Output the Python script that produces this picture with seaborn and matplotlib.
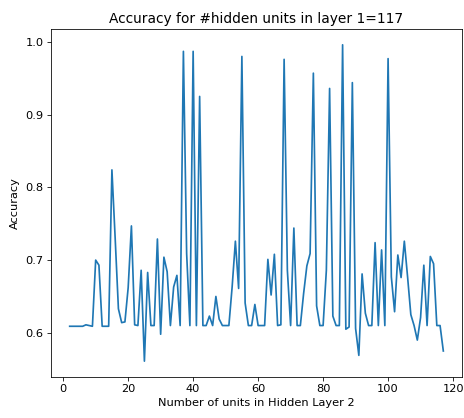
import matplotlib
matplotlib.use("Agg")
import matplotlib.pyplot as plt
import seaborn as sns
import pandas as pd
import numpy as np

units = list(range(2, 118))
accuracy = [
    0.609, 0.609, 0.609, 0.609, 0.609, 0.611, 0.610, 0.609,   # 2-9
    0.700, 0.693, 0.609, 0.609, 0.609, 0.824, 0.730, 0.633,   # 10-17
    0.614, 0.615, 0.662, 0.747, 0.611, 0.610, 0.686, 0.561,   # 18-25
    0.683, 0.610, 0.610, 0.729, 0.598, 0.704, 0.684, 0.610,   # 26-33
    0.663, 0.679, 0.610, 0.987, 0.709, 0.610, 0.987, 0.610,   # 34-41
    0.925, 0.610, 0.610, 0.623, 0.610, 0.650, 0.619, 0.610,   # 42-49
    0.610, 0.610, 0.663, 0.726, 0.661, 0.980, 0.641, 0.610,   # 50-57
    0.610, 0.639, 0.610, 0.610, 0.610, 0.701, 0.652, 0.708,   # 58-65
    0.610, 0.611, 0.976, 0.686, 0.610, 0.744, 0.610, 0.610,   # 66-73
    0.654, 0.692, 0.709, 0.957, 0.637, 0.610, 0.610, 0.686,   # 74-81
    0.936, 0.623, 0.610, 0.610, 0.996, 0.605, 0.608, 0.944,   # 82-89
    0.606, 0.569, 0.681, 0.627, 0.610, 0.610, 0.724, 0.610,   # 90-97
    0.714, 0.610, 0.977, 0.677, 0.629, 0.707, 0.676, 0.726,   # 98-105
    0.677, 0.625, 0.610, 0.590, 0.621, 0.693, 0.610, 0.705,   # 106-113
    0.695, 0.610, 0.610, 0.575,                               # 114-117
]

title = "Accuracy for #hidden units in layer 1=117"
xlabel = "Number of units in Hidden Layer 2"
ylabel = "Accuracy"

df = pd.DataFrame({"units": units, "accuracy": accuracy})

fig = plt.figure(figsize=(464 / 72, 418 / 72), dpi=72)
ax = fig.add_axes([51 / 464, 1 - 377 / 418, (462 - 51) / 464, (377 - 29) / 418])
sns.lineplot(data=df, x="units", y="accuracy", ax=ax, color="#1f77b4", linewidth=1.7)
ax.set_title(title, fontsize=13.7, pad=6.5)
ax.set_xlabel(xlabel, fontsize=11.4, labelpad=4)
ax.set_ylabel(ylabel, fontsize=11.4, labelpad=5)
ax.set_xticks([0, 20, 40, 60, 80, 100, 120])
ax.set_yticks([0.6, 0.7, 0.8, 0.9, 1.0])
ax.tick_params(labelsize=11.4, length=4)
fig.savefig("out.png", dpi=72)
